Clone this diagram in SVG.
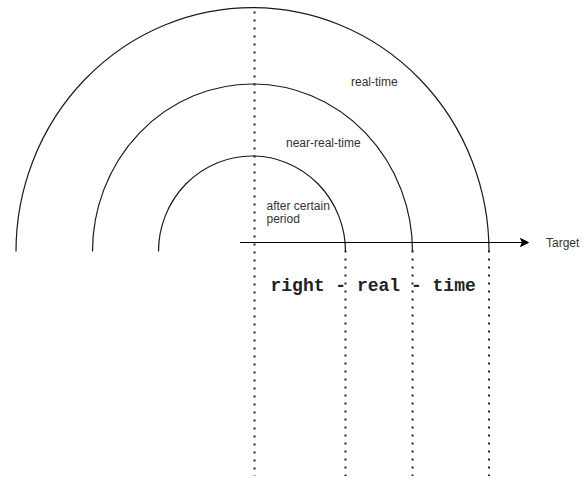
<svg xmlns="http://www.w3.org/2000/svg" width="587" height="479" viewBox="0 0 587 479">
<style>
.arc{fill:none;stroke:#1a1a1a;stroke-width:1.2}
.dot{fill:none;stroke:#222;stroke-width:2;stroke-dasharray:2 6}
.lbl{font-family:"Liberation Sans",Arial,sans-serif;font-size:12px;fill:#333}
.mono{font-family:"Liberation Mono","Courier New",monospace;font-size:18px;font-weight:bold;fill:#222}
</style>
<rect width="587" height="479" fill="#fff"/>
<g id="arc-outer"><path class="arc" d="M16,251.5 A236.5,244 0 0 1 489,251.5"/></g>
<g id="arc-middle"><path class="arc" d="M92.5,251.5 A160,167.5 0 0 1 412.5,251.5"/></g>
<g id="arc-inner"><path class="arc" d="M158.5,251.5 A93.5,95.5 0 0 1 345.5,251.5"/></g>
<g id="connectors">
<line class="dot" x1="254.5" y1="11.5" x2="254.5" y2="476"/>
<line class="dot" x1="345.5" y1="250.5" x2="345.5" y2="476"/>
<line class="dot" x1="412.5" y1="250.5" x2="412.5" y2="476"/>
<line class="dot" x1="489" y1="250.5" x2="489" y2="476"/>
<line x1="240" y1="242.5" x2="523" y2="242.5" stroke="#000" stroke-width="1.2"/>
<path d="M528.5,242.5 L520.5,238.5 L522.5,242.5 L520.5,246.5 Z" fill="#000" stroke="#000" stroke-width="1"/>
</g>
<g id="label-real-time"><text class="lbl" x="351" y="86">real-time</text></g>
<g id="label-near-real-time"><text class="lbl" x="286" y="147">near-real-time</text></g>
<g id="label-after"><text class="lbl" x="266.5" y="209.5">after certain</text><text class="lbl" x="266.5" y="223">period</text></g>
<g id="label-target"><text class="lbl" x="546" y="246.5">Target</text></g>
<g id="label-rrt"><text class="mono" x="270.5" y="290.5" xml:space="preserve">right - real - time</text></g>
</svg>
